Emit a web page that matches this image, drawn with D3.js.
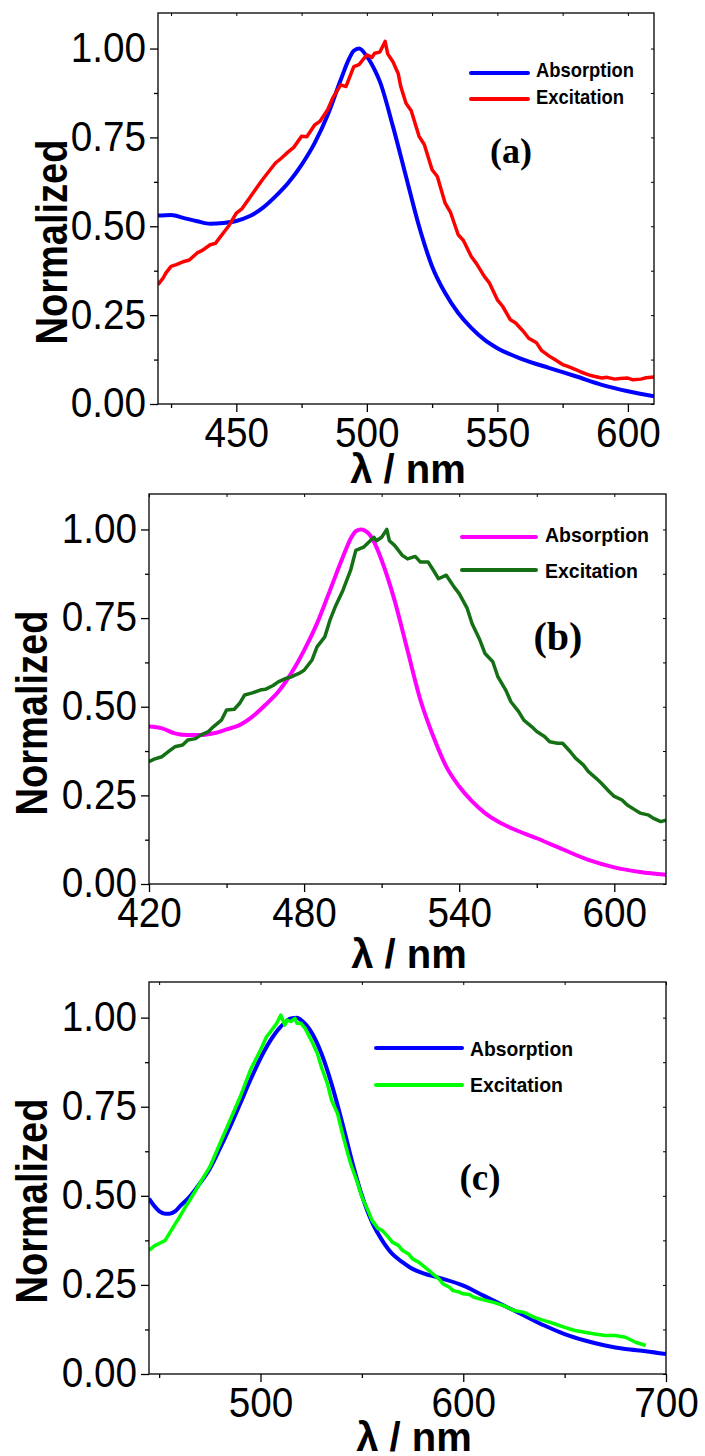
<!DOCTYPE html>
<html lang="en">
  <head>
    <meta charset="UTF-8" />
    <script src="https://d3js.org/d3.v7.min.js"></script>
    <title>Absorption / Excitation</title>
    <style>
      body { margin: 0; background: #fff; }
      svg { display: block; }
      .tick-label { font-family: 'Liberation Sans', Arial, sans-serif; font-size: 43px; fill: #000; }
      .axis-title { font-family: 'Liberation Sans', Arial, sans-serif; font-weight: bold; fill: #000; }
      .legend-text { font-family: 'Liberation Sans', Arial, sans-serif; font-weight: bold; font-size: 21px; fill: #000; }
      .panel-label { font-family: 'Liberation Serif', 'Times New Roman', serif; font-weight: bold; fill: #000; }
    </style>
  </head>
  <body>
    <script>
      // panel (a)
      const aAbsNm = [420, 425, 430, 435, 440, 445, 450, 455, 460, 465, 470, 475, 480, 485, 490, 493, 495, 497, 500, 503, 505, 510, 515, 520, 525, 530, 535, 540, 545, 550, 560, 570, 580, 590, 600, 610]
      const aAbsVal = [0.530, 0.532, 0.523, 0.514, 0.507, 0.509, 0.515, 0.528, 0.551, 0.584, 0.623, 0.673, 0.734, 0.813, 0.912, 0.968, 0.994, 1.00, 0.978, 0.940, 0.907, 0.781, 0.640, 0.500, 0.387, 0.312, 0.256, 0.214, 0.181, 0.157, 0.125, 0.101, 0.078, 0.054, 0.036, 0.022]
      const aExcNm = [420, 422, 423, 425, 427, 430, 432, 435, 437, 440, 442, 445, 447, 450, 452, 455, 457, 460, 462, 465, 467, 470, 472, 475, 477, 480, 482, 485, 487, 490, 492, 495, 497, 500, 502, 503, 505, 506, 507, 508, 510, 512, 513, 515, 517, 520, 522, 525, 527, 530, 532, 535, 537, 540, 542, 545, 547, 550, 552, 555, 557, 560, 562, 565, 567, 570, 572, 575, 577, 580, 582, 585, 587, 590, 592, 595, 597, 600, 602, 605, 607, 610]
      const aExcVal = [0.336, 0.355, 0.368, 0.387, 0.392, 0.401, 0.405, 0.425, 0.432, 0.448, 0.452, 0.481, 0.500, 0.537, 0.548, 0.579, 0.600, 0.631, 0.650, 0.678, 0.690, 0.710, 0.722, 0.753, 0.752, 0.785, 0.795, 0.828, 0.862, 0.898, 0.893, 0.949, 0.955, 0.982, 0.975, 0.987, 0.990, 1.005, 1.02, 0.985, 0.963, 0.930, 0.893, 0.846, 0.825, 0.753, 0.730, 0.659, 0.640, 0.565, 0.540, 0.476, 0.460, 0.415, 0.395, 0.359, 0.340, 0.293, 0.275, 0.237, 0.228, 0.204, 0.185, 0.172, 0.150, 0.134, 0.125, 0.111, 0.106, 0.097, 0.090, 0.082, 0.078, 0.073, 0.075, 0.070, 0.072, 0.073, 0.068, 0.070, 0.074, 0.076]

      // panel (b)
      const bAbsNm = [420, 425, 430, 435, 440, 445, 450, 455, 460, 465, 470, 475, 480, 485, 490, 495, 498, 500, 502, 505, 508, 510, 515, 520, 525, 530, 535, 540, 545, 550, 555, 560, 570, 580, 590, 600, 610, 620]
      const bAbsVal = [0.444, 0.439, 0.425, 0.420, 0.420, 0.425, 0.436, 0.448, 0.472, 0.505, 0.542, 0.594, 0.659, 0.735, 0.828, 0.922, 0.974, 0.995, 1.00, 0.988, 0.950, 0.913, 0.800, 0.659, 0.519, 0.416, 0.331, 0.275, 0.233, 0.200, 0.176, 0.158, 0.129, 0.098, 0.068, 0.047, 0.034, 0.026]
      const bExcNm = [420, 422, 425, 428, 430, 433, 435, 438, 440, 443, 445, 448, 450, 453, 455, 457, 460, 463, 465, 468, 470, 473, 475, 478, 480, 483, 485, 488, 490, 492, 495, 498, 500, 503, 505, 507, 508, 510, 512, 513, 515, 518, 520, 523, 525, 528, 530, 532, 535, 538, 540, 543, 545, 548, 550, 553, 555, 558, 560, 563, 565, 568, 570, 573, 575, 578, 580, 583, 585, 588, 590, 593, 595, 598, 600, 603, 605, 608, 610, 613, 615, 618, 620]
      const bExcVal = [0.345, 0.352, 0.359, 0.376, 0.387, 0.392, 0.406, 0.410, 0.420, 0.430, 0.444, 0.462, 0.491, 0.493, 0.509, 0.533, 0.539, 0.547, 0.549, 0.560, 0.570, 0.580, 0.584, 0.594, 0.603, 0.631, 0.669, 0.697, 0.744, 0.781, 0.828, 0.885, 0.941, 0.950, 0.964, 0.978, 0.968, 0.978, 1.00, 0.968, 0.955, 0.927, 0.917, 0.924, 0.908, 0.908, 0.885, 0.861, 0.871, 0.838, 0.819, 0.779, 0.734, 0.688, 0.650, 0.627, 0.584, 0.547, 0.514, 0.486, 0.462, 0.444, 0.430, 0.416, 0.401, 0.397, 0.397, 0.373, 0.355, 0.336, 0.317, 0.298, 0.284, 0.261, 0.247, 0.237, 0.223, 0.209, 0.200, 0.195, 0.186, 0.176, 0.180]

      // panel (c)
      const cAbsNm = [445, 448, 450, 453, 455, 458, 460, 465, 470, 475, 480, 485, 490, 495, 500, 505, 510, 515, 518, 520, 525, 530, 535, 540, 545, 550, 555, 560, 565, 570, 575, 580, 590, 600, 610, 620, 630, 640, 650, 660, 670, 680, 690, 700]
      const cAbsVal = [0.492, 0.469, 0.457, 0.450, 0.450, 0.457, 0.469, 0.497, 0.534, 0.576, 0.633, 0.694, 0.759, 0.825, 0.886, 0.937, 0.975, 0.998, 1.00, 0.993, 0.960, 0.900, 0.815, 0.712, 0.600, 0.501, 0.426, 0.375, 0.337, 0.314, 0.295, 0.283, 0.267, 0.248, 0.220, 0.192, 0.164, 0.136, 0.112, 0.094, 0.080, 0.070, 0.064, 0.056]
      const cExcNm = [445, 448, 450, 453, 455, 458, 460, 463, 465, 470, 475, 480, 485, 490, 495, 500, 503, 505, 508, 510, 512, 513, 515, 517, 518, 520, 522, 525, 528, 530, 533, 535, 538, 540, 543, 545, 548, 550, 553, 555, 558, 560, 563, 565, 568, 570, 573, 575, 578, 580, 583, 585, 588, 590, 593, 595, 598, 600, 603, 605, 608, 610, 615, 620, 625, 630, 635, 640, 645, 650, 655, 660, 665, 670, 675, 680, 685, 690]
      const cExcVal = [0.347, 0.361, 0.366, 0.375, 0.394, 0.422, 0.440, 0.469, 0.487, 0.534, 0.581, 0.647, 0.712, 0.778, 0.853, 0.909, 0.947, 0.961, 0.984, 1.007, 0.979, 0.993, 0.989, 0.998, 0.984, 0.984, 0.970, 0.937, 0.900, 0.862, 0.815, 0.769, 0.731, 0.684, 0.619, 0.581, 0.534, 0.497, 0.459, 0.431, 0.408, 0.403, 0.384, 0.370, 0.361, 0.347, 0.337, 0.323, 0.314, 0.305, 0.291, 0.281, 0.267, 0.253, 0.244, 0.234, 0.230, 0.225, 0.223, 0.216, 0.211, 0.208, 0.201, 0.192, 0.178, 0.173, 0.159, 0.150, 0.141, 0.131, 0.122, 0.117, 0.112, 0.108, 0.108, 0.103, 0.089, 0.080]

      const yMajor = [0, 0.25, 0.5, 0.75, 1.0]
      const yMinor = [0.125, 0.375, 0.625, 0.875]
      const seriesNames = ['Absorption', 'Excitation']

      const panels = [
        {
          box: [158, 654, 13, 404], bg: 0, xDomain: [420, 610],
          xMajor: [450, 500, 550, 600], xMinor: [425, 475, 525, 575],
          series: [[aAbsNm, aAbsVal, '#0000ff'], [aExcNm, aExcVal, '#ff0000']],
          legend: { x1: 471, x2: 528, ys: [73, 99], tx: 536, bases: [77, 104], widths: [98, 88] },
          label: ['(a)', 511, 163, 36],
          yTitle: [67, 242], xTitle: [408, 483]
        },
        {
          box: [149, 666, 494, 884], bg: 484, xDomain: [420, 620],
          xMajor: [420, 480, 540, 600], xMinor: [450, 510, 570],
          series: [[bAbsNm, bAbsVal, '#ff00ff'], [bExcNm, bExcVal, '#157015']],
          legend: { x1: 462, x2: 536, ys: [537, 570], tx: 545, bases: [542, 578], widths: [104, 93] },
          label: ['(b)', 558, 650, 40],
          yTitle: [47, 713], xTitle: [409, 968]
        },
        {
          box: [149, 666, 982, 1374], bg: 972, xDomain: [445, 700],
          xMajor: [500, 600, 700], xMinor: [450, 550, 650],
          series: [[cAbsNm, cAbsVal, '#0000ff'], [cExcNm, cExcVal, '#00ff00']],
          legend: { x1: 376, x2: 462, ys: [1048, 1085], tx: 470, bases: [1056, 1092], widths: [103, 93] },
          label: ['(c)', 480, 1190, 37],
          yTitle: [47, 1201], xTitle: [414, 1451]
        }
      ]

      const svg = d3.select('body')
        .append('svg')
        .attr('width', 705)
        .attr('height', 1456)

      // narrow the tick numbers a little, like the original export
      function squeeze(sel) {
        sel.each(function () {
          const w = this.getComputedTextLength()
          d3.select(this).attr('textLength', w * 0.9).attr('lengthAdjust', 'spacingAndGlyphs')
        })
      }

      panels.forEach(function (p) {
        const [left, right, top, bottom] = p.box
        const g = svg.append('g')

        g.append('rect')
          .attr('x', 0).attr('y', p.bg)
          .attr('width', 705).attr('height', 1456 - p.bg)
          .attr('fill', '#fff')

        const x = d3.scaleLinear().domain(p.xDomain).range([left, right])
        const y = d3.scaleLinear().domain([0, 1.1]).range([bottom, top])

        // curves
        const clipId = 'clip' + top
        g.append('clipPath').attr('id', clipId)
          .append('rect')
          .attr('x', left).attr('y', top - 10)
          .attr('width', right - left).attr('height', bottom - top + 10)

        p.series.forEach(function (s, i) {
          const pts = s[0].map((nm, k) => [nm, s[1][k]])
          const line = d3.line()
            .x(d => x(d[0]))
            .y(d => y(d[1]))
            .curve(i === 0 ? d3.curveMonotoneX : d3.curveLinear)
          g.append('path')
            .datum(pts)
            .attr('d', line)
            .attr('clip-path', 'url(#' + clipId + ')')
            .attr('fill', 'none')
            .attr('stroke', s[2])
            .attr('stroke-width', i === 0 ? 4 : 3.5)
            .attr('stroke-linejoin', 'round')
        })

        // frame
        g.append('rect')
          .attr('x', left).attr('y', top)
          .attr('width', right - left).attr('height', bottom - top)
          .attr('fill', 'none')
          .attr('stroke', '#000')
          .attr('stroke-width', 1.3)

        // bottom axis
        const xAxis = g.append('g').attr('transform', 'translate(0,' + bottom + ')')
          .call(d3.axisBottom(x).tickValues(p.xMajor).tickSize(8).tickPadding(4).tickFormat(d3.format('d')))
        xAxis.select('.domain').remove()
        xAxis.selectAll('line').attr('stroke-width', 1.3)
        xAxis.selectAll('text').attr('class', 'tick-label').attr('font-size', null).attr('font-family', null)
          .call(squeeze)
        g.append('g').attr('transform', 'translate(0,' + bottom + ')')
          .call(d3.axisBottom(x).tickValues(p.xMinor).tickSize(4).tickFormat(''))
          .call(a => a.select('.domain').remove())
          .selectAll('line').attr('stroke-width', 1.3)

        // left axis
        const yAxis = g.append('g').attr('transform', 'translate(' + left + ',0)')
          .call(d3.axisLeft(y).tickValues(yMajor).tickSize(8).tickPadding(4).tickFormat(d3.format('.2f')))
        yAxis.select('.domain').remove()
        yAxis.selectAll('line').attr('stroke-width', 1.3)
        yAxis.selectAll('text').attr('class', 'tick-label').attr('font-size', null).attr('font-family', null)
          .attr('dy', '0.3em')
          .call(squeeze)
        g.append('g').attr('transform', 'translate(' + left + ',0)')
          .call(d3.axisLeft(y).tickValues(yMinor).tickSize(4).tickFormat(''))
          .call(a => a.select('.domain').remove())
          .selectAll('line').attr('stroke-width', 1.3)

        // small inner ticks on top and right
        g.append('g').attr('transform', 'translate(0,' + top + ')')
          .call(d3.axisBottom(x).tickValues(p.xMajor.concat(p.xMinor)).tickSize(3).tickFormat(''))
          .call(a => a.select('.domain').remove())
          .selectAll('line').attr('stroke-width', 1)
        g.append('g').attr('transform', 'translate(' + right + ',0)')
          .call(d3.axisLeft(y).tickValues(yMajor.concat(yMinor)).tickSize(3).tickFormat(''))
          .call(a => a.select('.domain').remove())
          .selectAll('line').attr('stroke-width', 1)

        // legend
        seriesNames.forEach(function (name, i) {
          g.append('line')
            .attr('x1', p.legend.x1).attr('x2', p.legend.x2)
            .attr('y1', p.legend.ys[i]).attr('y2', p.legend.ys[i])
            .attr('stroke', p.series[i][2])
            .attr('stroke-width', 4)
            .attr('stroke-linecap', 'round')
          g.append('text')
            .attr('class', 'legend-text')
            .attr('x', p.legend.tx).attr('y', p.legend.bases[i])
            .attr('textLength', p.legend.widths[i])
            .attr('lengthAdjust', 'spacingAndGlyphs')
            .text(name)
        })

        // panel label
        g.append('text')
          .attr('class', 'panel-label')
          .attr('x', p.label[1]).attr('y', p.label[2])
          .attr('text-anchor', 'middle')
          .attr('font-size', p.label[3])
          .text(p.label[0])

        // axis titles
        g.append('text')
          .attr('class', 'axis-title')
          .attr('transform', 'translate(' + p.yTitle[0] + ',' + p.yTitle[1] + ') rotate(-90)')
          .attr('text-anchor', 'middle')
          .attr('font-size', 44)
          .attr('textLength', 205)
          .attr('lengthAdjust', 'spacingAndGlyphs')
          .text('Normalized')
        g.append('text')
          .attr('class', 'axis-title')
          .attr('x', p.xTitle[0]).attr('y', p.xTitle[1])
          .attr('text-anchor', 'middle')
          .attr('font-size', 40)
          .text('λ / nm')
      })
    </script>
  </body>
</html>
